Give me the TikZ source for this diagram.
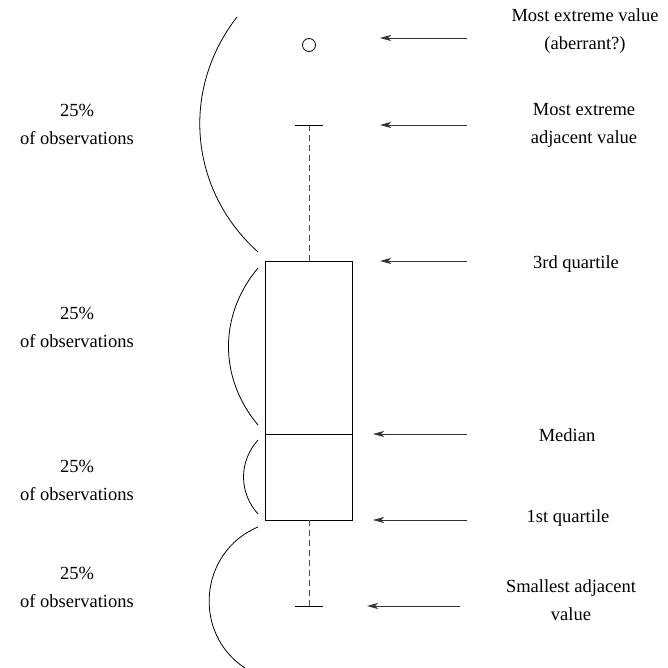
\documentclass[tikz,border=0pt]{standalone}
\usepackage{fontspec}
\setmainfont{Liberation Serif}
\usetikzlibrary{arrows.meta}
\tikzset{>={Stealth[length=11pt,width=6pt,inset=3pt]}}
\tikzstyle{lbl}=[align=center,inner sep=0,font=\fontsize{18.5}{28}\selectfont]
\tikzstyle{whisker}=[line width=0.8pt,dash pattern=on 6pt off 4pt,black!70]
\tikzstyle{brace}=[line width=0.8pt]
\tikzstyle{pointer}=[->,line width=0.8pt,black!80]

\begin{document}
\begin{tikzpicture}[x=1pt,y=-1pt,line width=0.8pt]
  \useasboundingbox (0,0) rectangle (667,668);
  \def\xl{265}  % box left
  \def\xr{352}  % box right
  \def\xm{309}  % whisker axis
  \def\Q{261}   % 3rd quartile
  \def\M{434}   % median
  \def\q{520}   % 1st quartile
  \def\U{125}   % upper adjacent value
  \def\L{606}   % lower adjacent value

  % BOX + WHISKERS
  \draw (\xl,\Q) rectangle (\xr,\q);
  \draw (\xl,\M) -- (\xr,\M);
  \draw[whisker] (\xm,\Q) -- (\xm,\U);
  \draw[whisker] (\xm,\q) -- (\xm,\L);
  \draw (\xm-14,\U) -- (\xm+14,\U);
  \draw (\xm-14,\L) -- (\xm+14,\L);
  \node[circle,draw,minimum size=13pt,inner sep=0] (out) at (\xm,45) {};

  % BRACES (LEFT)
  \coordinate (b1s) at (237,17);  \coordinate (b1e) at (258,252);
  \coordinate (b2s) at (258,268); \coordinate (b2e) at (258,425);
  \coordinate (b3s) at (258,440); \coordinate (b3e) at (258,514);
  \coordinate (b4s) at (258,527); \coordinate (b4e) at (245,668);
  \draw[brace] (b1s) to[bend right=43] (b1e);
  \draw[brace] (b2s) to[bend right=40] (b2e);
  \draw[brace] (b3s) to[bend right=42] (b3e);
  \draw[brace] (b4s) to[bend right=62,looseness=1.15] (b4e);
  \foreach \y [count=\i] in {124.5,327.5,480,587.5}{
    \node[lbl] (pct\i) at (77,\y) {25\%\\of observations};
  }

  % POINTERS (RIGHT)
  \foreach \name/\y/\xa/\xb in {ext/38/467/380,adj/125/467/380,qu/261/467/380,
                                med/434/467/373,ql/520/467/373,sm/606/460/367}{
    \coordinate (\name-t) at (\xa,\y);
    \coordinate (\name-h) at (\xb,\y);
    \draw[pointer] (\name-t) -- (\name-h);
  }
  \node[lbl] (Lext) at (585,31)  {Most extreme value\\(aberrant?)};
  \node[lbl] (Ladj) at (584,125) {Most extreme\\adjacent value};
  \node[lbl] (Lqu)  at (576,264) {3rd quartile};
  \node[lbl] (Lmed) at (567,435) {Median};
  \node[lbl] (Lql)  at (568,518) {1st quartile};
  \node[lbl] (Lsm)  at (571,600) {Smallest adjacent\\value};
\end{tikzpicture}
\end{document}
